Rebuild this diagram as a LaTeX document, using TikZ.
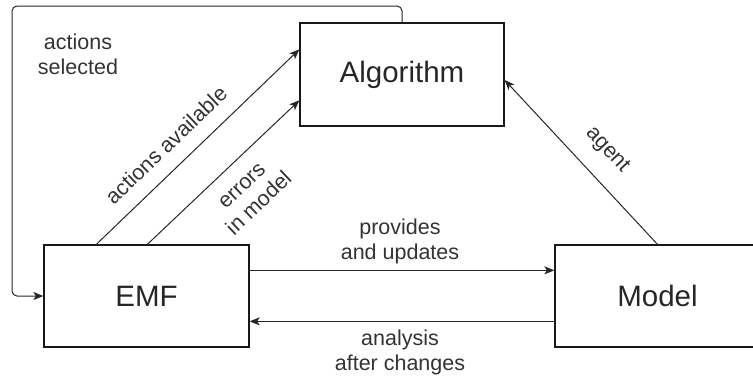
\documentclass[tikz,border=0pt]{standalone}
\usepackage{fontspec}
\setmainfont{Liberation Sans}
\usetikzlibrary{arrows.meta}
\begin{document}
\begin{tikzpicture}[x=1pt,y=-1pt,
  box/.style={draw=black!90, line width=1.3pt, minimum width=205pt, minimum height=102pt, inner sep=0pt,
    font=\fontsize{29.5}{35}\selectfont, text=black!85},
  lbl/.style={font=\fontsize{21.5}{25}\selectfont, align=center, text=black!80, inner sep=0pt},
  arr/.style={draw=black!85, line width=1pt, -{Stealth[length=10pt,width=8pt,inset=2.5pt]}},
  harr/.style={arr, line width=1.3pt}]
\useasboundingbox (0,0) rectangle (753,376);
\node[box, minimum width=204pt, minimum height=103pt] (alg) at (402,74.5) {Algorithm};
\node[box] (emf) at (146.5,296) {EMF};
\node[box] (model) at (657.5,296) {Model};
\coordinate (c1) at (12,6);
% connectors
\draw[arr, rounded corners=5pt] (alg.north) |- (c1) |- (emf.west);
\draw[arr] ([xshift=53pt]emf.north west) -- ([yshift=-27pt]alg.north west);
\draw[arr] ([xshift=104pt]emf.north west) -- ([yshift=-78pt]alg.north west);
\draw[arr] (model.north) -- ([yshift=-5.5pt]alg.east);
\draw[harr] ([yshift=-26pt]emf.north east) -- ([yshift=-26pt]model.north west);
\draw[harr] ([yshift=-77pt]model.north west) -- ([yshift=-77pt]emf.north east);
% labels
\node[lbl] (l1) at (78,54) {actions\\selected};
\node[lbl, rotate=43.8] (l2) at (166,145) {actions available};
\node[lbl, rotate=43.5] (l3) at (251,195) {errors\\in model};
\node[lbl, rotate=-47.2] (l4) at (607,150) {agent};
\node[lbl] (l5) at (400,241) {provides\\and updates};
\node[lbl] (l6) at (400,352) {analysis\\after changes};
\end{tikzpicture}
\end{document}
